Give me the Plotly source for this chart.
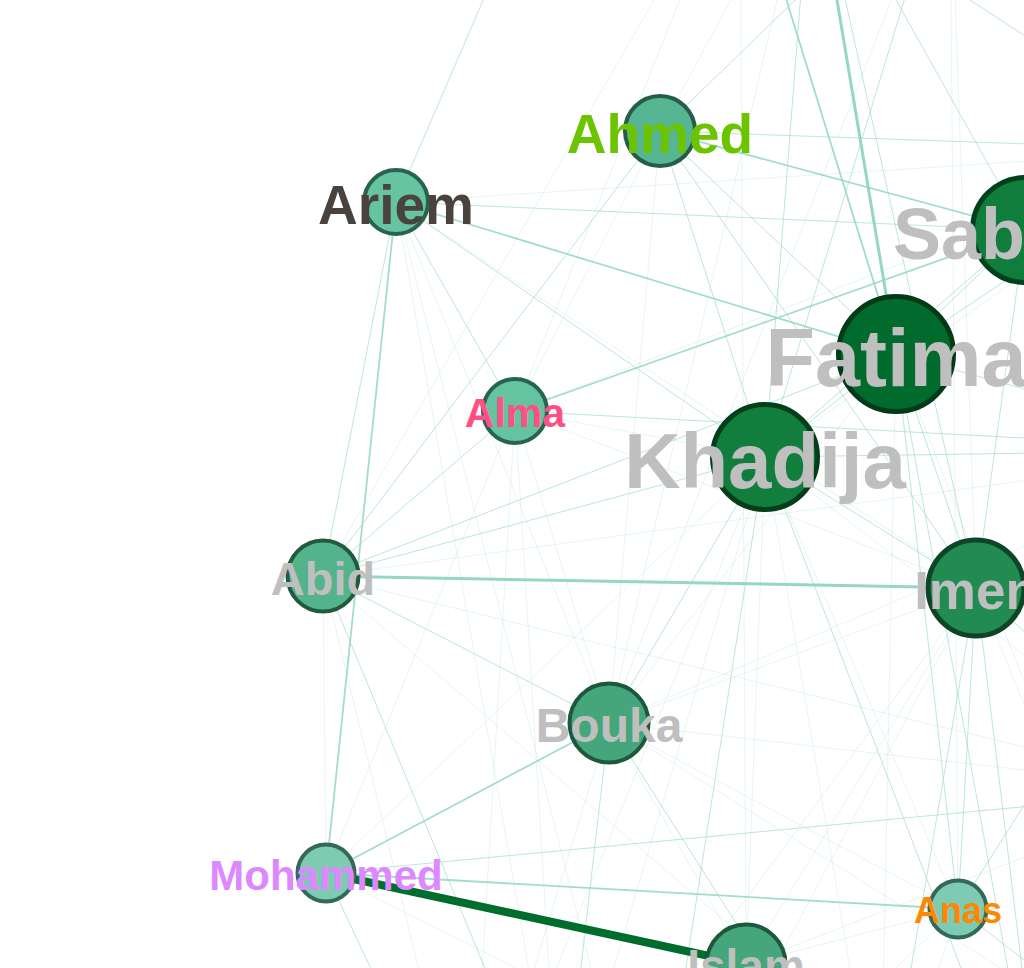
import plotly.graph_objects as go

# ---------------- data ----------------
names = ["Ahmed", "Ariem", "Sabrina", "Fatima", "Alma", "Khadija", "Abid",
         "Imen", "Bouka", "Mohammed", "Anas", "Islam"]
node_x = [660, 396, 1025, 896, 515, 765, 323, 976, 609, 326, 958, 746]
node_y = [131, 202, 230, 354, 411, 457, 576, 588, 723, 873, 909, 964]
node_d = [74, 68, 110, 120, 68, 110, 75, 101, 83, 61, 61, 83]
node_fill = ["#56b693", "#66c4a2", "#117d3d", "#006b2c", "#64c4a2", "#127e3e",
             "#53b38b", "#228b52", "#44a67a", "#7ecbb2", "#7ecbb3", "#44a67a"]
node_edge = ["#255e48", "#28634d", "#00401b", "#003a16", "#28634d", "#033d1a",
             "#225a40", "#0e4527", "#1d573c", "#33685a", "#33685a", "#1d573c"]
label_size = [55, 55, 72, 81, 41, 78, 47, 53, 48, 42, 36, 46]
label_color = ["#6cc400", "#4a433d", "#bfbfbf", "#bfbfbf", "#ff4f86", "#bfbfbf",
               "#bfbfbf", "#bfbfbf", "#bfbfbf", "#dd88ff", "#ff8800", "#bfbfbf"]

# nodes of the network lying outside the visible window
hidden = ["T1", "T2", "T3", "T4", "R1", "R2", "R3", "R4", "B1", "B2", "B3", "B4", "B5"]
hidden_x = [812, 740, 950, 548, 1200, 1250, 1200, 1180, 560, 880, 470, 1050, 650]
hidden_y = [-150, -150, -150, -150, 150, 450, 790, 1080, 1150, 1150, 1180, 1200, 1200]

edges = [
    ("Abid", "Imen", 4), ("Mohammed", "Islam", 9), ("Mohammed", "Anas", 3),
    ("Ariem", "Mohammed", 3), ("Ariem", "Abid", 2), ("Ariem", "Sabrina", 2),
    ("Ariem", "Fatima", 3), ("Ariem", "Alma", 2), ("Ariem", "Khadija", 2),
    ("Ariem", "Imen", 1), ("Ariem", "Bouka", 1),
    ("Ahmed", "Sabrina", 3), ("Ahmed", "Khadija", 2), ("Ahmed", "Fatima", 2),
    ("Ahmed", "Abid", 2), ("Ahmed", "Bouka", 1), ("Ahmed", "Imen", 2), ("Ahmed", "Alma", 1),
    ("Alma", "Sabrina", 3), ("Alma", "Abid", 2), ("Alma", "Khadija", 1), ("Alma", "Imen", 1),
    ("Alma", "Bouka", 1), ("Alma", "Mohammed", 1),
    ("Fatima", "Khadija", 2), ("Fatima", "Imen", 2), ("Fatima", "Sabrina", 2),
    ("Fatima", "Abid", 2), ("Fatima", "Bouka", 1), ("Fatima", "Anas", 2),
    ("Khadija", "Bouka", 2), ("Khadija", "Abid", 2), ("Khadija", "Imen", 2),
    ("Khadija", "Islam", 1), ("Khadija", "Anas", 1), ("Khadija", "Mohammed", 1),
    ("Sabrina", "Imen", 2), ("Sabrina", "Khadija", 2),
    ("Bouka", "Mohammed", 3), ("Bouka", "Abid", 2), ("Bouka", "Imen", 1),
    ("Bouka", "Anas", 1), ("Bouka", "Islam", 1),
    ("Abid", "Mohammed", 1), ("Islam", "Anas", 1), ("Islam", "Imen", 1), ("Anas", "Imen", 2),
    ("T1", "Fatima", 4), ("T1", "Khadija", 2), ("T1", "Ahmed", 1), ("T1", "Imen", 2),
    ("T1", "Bouka", 1), ("T1", "Sabrina", 2),
    ("T2", "Fatima", 3), ("T2", "Alma", 1), ("T2", "Abid", 1), ("T2", "Islam", 1),
    ("T2", "R1", 2),
    ("T3", "Ahmed", 2), ("T3", "Khadija", 2), ("T3", "Imen", 1), ("T3", "Anas", 1), ("T3", "Bouka", 1),
    ("T4", "Ariem", 2),
    ("R1", "Ahmed", 2), ("R1", "Ariem", 1), ("R1", "Fatima", 2), ("R1", "Khadija", 1), ("R1", "Alma", 1),
    ("R2", "Alma", 2), ("R2", "Abid", 1), ("R2", "Fatima", 2), ("R2", "Khadija", 2),
    ("R2", "Bouka", 1), ("R2", "Anas", 2), ("R2", "Sabrina", 2),
    ("R3", "Mohammed", 2), ("R3", "Bouka", 1), ("R3", "Imen", 2), ("R3", "Khadija", 1),
    ("R3", "Abid", 1), ("R3", "Islam", 1),
    ("R4", "Anas", 2), ("R4", "Imen", 1), ("R4", "Fatima", 1), ("R4", "Bouka", 1),
    ("B1", "Ariem", 1), ("B1", "Abid", 2), ("B1", "Bouka", 2), ("B1", "Alma", 1),
    ("B1", "Khadija", 1), ("B1", "Imen", 1),
    ("B2", "Khadija", 1), ("B2", "Imen", 2), ("B2", "Bouka", 2), ("B2", "Fatima", 1),
    ("B2", "Anas", 1), ("B2", "Mohammed", 1),
    ("B3", "Abid", 1), ("B3", "Bouka", 1), ("B3", "Khadija", 1), ("B3", "Mohammed", 2), ("B3", "Alma", 1),
    ("B4", "Fatima", 2), ("B4", "Imen", 2), ("B4", "Abid", 1), ("B4", "Khadija", 2),
    ("B5", "Ariem", 1), ("B5", "Khadija", 2), ("B5", "Imen", 1), ("B5", "Anas", 1),
]

# ---------------- styles ----------------
edge_style = {
    1: dict(width=0.8, color="rgba(153,216,201,0.3)"),
    2: dict(width=1.0, color="rgba(153,216,201,0.65)"),
    3: dict(width=1.8, color="rgba(153,216,201,0.9)"),
    4: dict(width=3.0, color="rgba(150,214,198,1)"),
    9: dict(width=8.0, color="#006d2c"),
}

pos = {n: (x, y) for n, x, y in zip(names, node_x, node_y)}
pos.update({n: (x, y) for n, x, y in zip(hidden, hidden_x, hidden_y)})

fig = go.Figure()

for w in sorted(edge_style):
    xs, ys = [], []
    for a, b, ew in edges:
        if ew != w:
            continue
        xs += [pos[a][0], pos[b][0], None]
        ys += [pos[a][1], pos[b][1], None]
    fig.add_trace(go.Scatter(x=xs, y=ys, mode="lines", line=edge_style[w],
                             hoverinfo="skip", showlegend=False))

fig.add_trace(go.Scatter(
    x=hidden_x, y=hidden_y, mode="markers",
    marker=dict(size=70, color="#44a67a", line=dict(color="#1d573c", width=4)),
    hoverinfo="skip", showlegend=False))

lw = [4 if d < 90 else 5 for d in node_d]
fig.add_trace(go.Scatter(
    x=node_x, y=node_y, mode="markers",
    marker=dict(size=[d - l for d, l in zip(node_d, lw)], color=node_fill,
                line=dict(color=node_edge, width=lw), opacity=1),
    hovertext=names, hoverinfo="text", showlegend=False))

# labels are centred on their node, baseline dropped in proportion to font size
label_y = [y + 0.15 * s for y, s in zip(node_y, label_size)]
fig.add_trace(go.Scatter(
    x=node_x, y=label_y, mode="text", text=names, textposition="middle center",
    textfont=dict(family="Liberation Sans, Arial, sans-serif", size=label_size,
                  color=label_color, weight="bold"),
    hoverinfo="skip", showlegend=False))

fig.update_layout(
    width=1024, height=968,
    margin=dict(l=0, r=0, t=0, b=0),
    paper_bgcolor="white", plot_bgcolor="white",
    xaxis=dict(range=[0, 1024], visible=False, fixedrange=True),
    yaxis=dict(range=[968, 0], visible=False, fixedrange=True),
)

fig.write_html("out.html", config={"displayModeBar": False},
               post_script="document.body.style.margin='0';")
